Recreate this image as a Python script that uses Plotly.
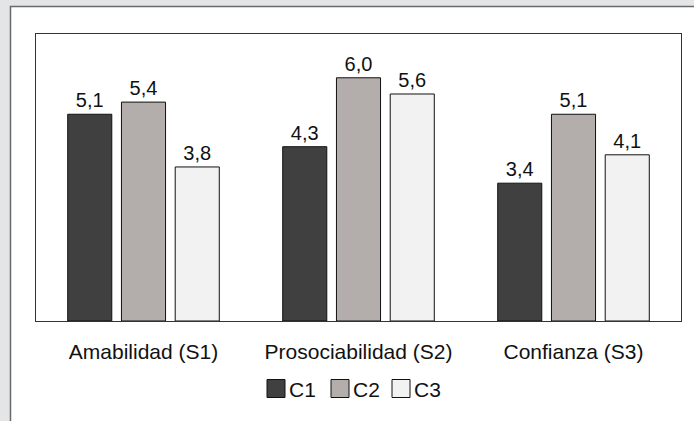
import plotly.graph_objects as go

categories = ["Amabilidad (S1)", "Prosociabilidad (S2)", "Confianza (S3)"]
series_names = ["C1", "C2", "C3"]
c1_values = [5.1, 4.3, 3.4]
c2_values = [5.4, 6.0, 5.1]
c3_values = [3.8, 5.6, 4.1]
series_values = [c1_values, c2_values, c3_values]
colors = ["#404040", "#b3aeab", "#f2f2f2"]

FONT = "Liberation Sans, Arial, Helvetica, sans-serif"

fig = go.Figure()
for name, vals, col in zip(series_names, series_values, colors):
    fig.add_trace(go.Bar(
        x=categories, y=vals, name=name,
        marker=dict(color=col, line=dict(color="#111111", width=1)),
        texttemplate="%{y:.1f}", textposition="outside",
        textfont=dict(family=FONT, size=20, color="#111111"),
        cliponaxis=False, showlegend=False,
    ))

W, H = 694, 421
ml, mr, mt, mb = 36, 13, 34, 100
pw, ph = W - ml - mr, H - mt - mb

def px2x(px):
    return (px - ml) / pw

def py2y(py):
    return 1 - (py - mt) / ph

shapes = [
    dict(type="rect", xref="paper", yref="paper", layer="below",
         x0=px2x(10.5), x1=px2x(720), y0=py2y(6.5), y1=py2y(450),
         fillcolor="white", line=dict(color="#6a6a6a", width=1.5)),
]
annotations = []
# manual legend
legend_x = [267, 331, 392]
for i, (name, col) in enumerate(zip(series_names, colors)):
    x0 = legend_x[i]
    shapes.append(dict(type="rect", xref="paper", yref="paper",
                       x0=px2x(x0), x1=px2x(x0 + 18), y0=py2y(397.5), y1=py2y(379.5),
                       fillcolor=col, line=dict(color="#111111", width=1)))
    annotations.append(dict(xref="paper", yref="paper", x=px2x(x0 + 20), y=py2y(389),
                            text=name, showarrow=False, xanchor="left", yanchor="middle",
                            font=dict(family=FONT, size=21, color="#111111")))

fig.update_layout(
    width=W, height=H,
    margin=dict(l=ml, r=mr, t=mt, b=mb),
    paper_bgcolor="#e4e5e7", plot_bgcolor="white",
    barmode="group", bargap=0.25, bargroupgap=0.18,
    separators=",.",
    shapes=shapes, annotations=annotations,
    showlegend=False,
    font=dict(family=FONT, size=20, color="#111111"),
)
fig.update_xaxes(showline=True, mirror=True, linecolor="#333333", linewidth=1,
                 ticks="", showgrid=False,
                 tickfont=dict(family=FONT, size=21, color="#111111"),
                 ticklabelstandoff=12)
fig.update_yaxes(range=[0, 7.08], showline=True, mirror=True, linecolor="#333333",
                 linewidth=1, showticklabels=False, ticks="", showgrid=False,
                 zeroline=False)

fig.write_html("out.html", config={"displayModeBar": False},
               post_script="document.body.style.margin='0';document.body.style.overflow='hidden';")
